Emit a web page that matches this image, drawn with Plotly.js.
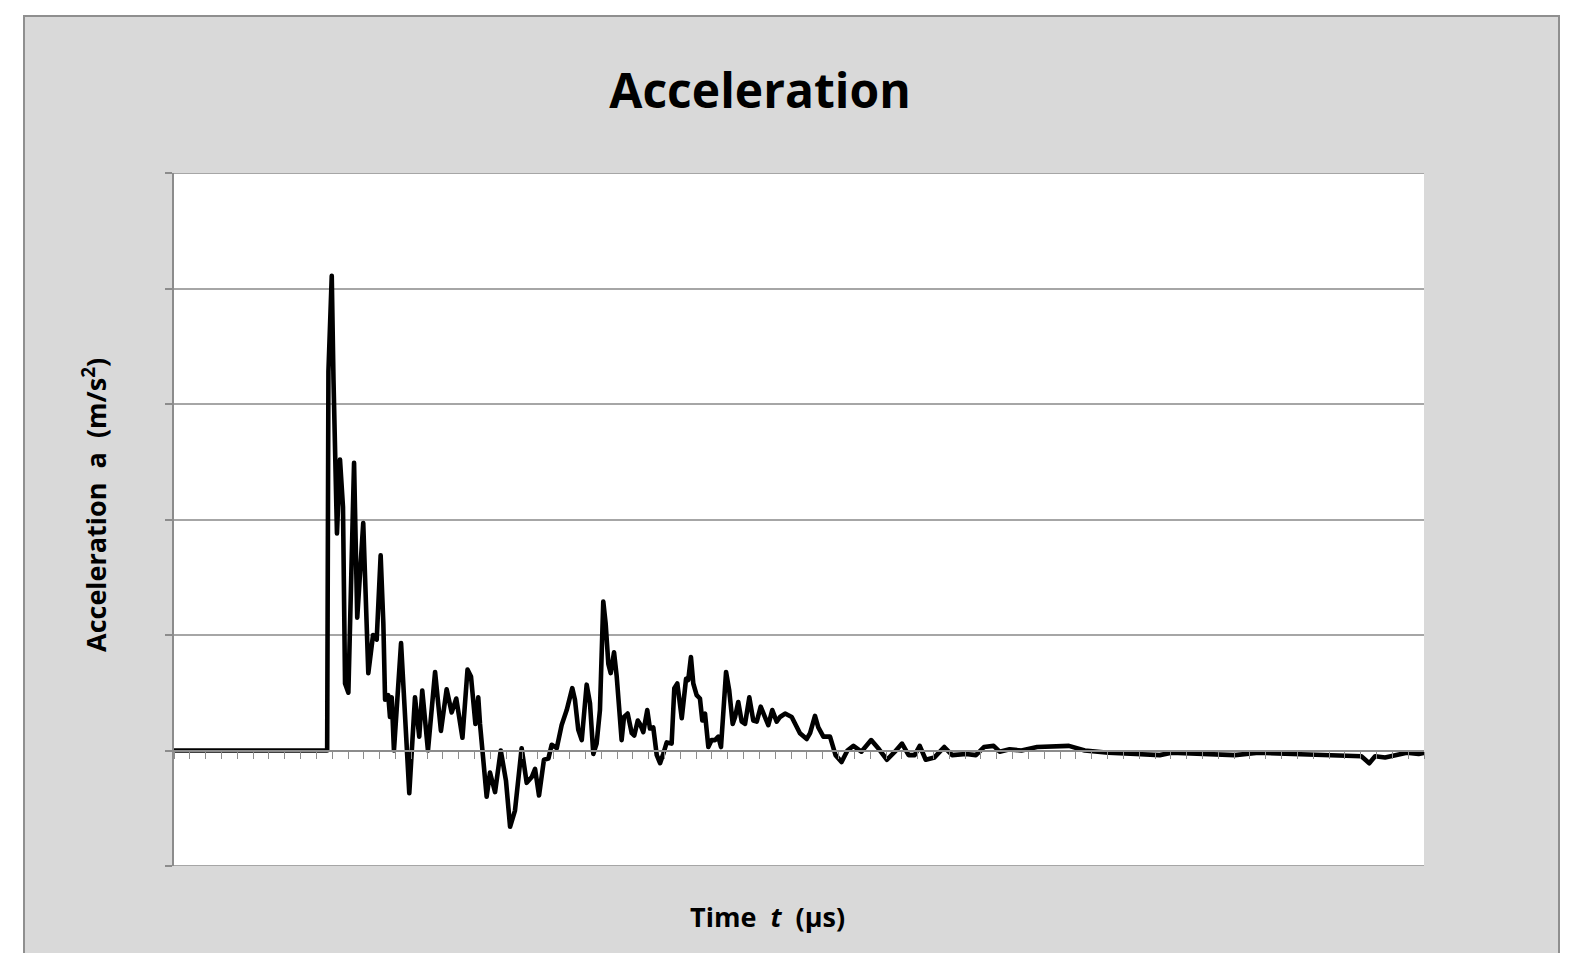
<!DOCTYPE html>
<html>
<head>
<meta charset="utf-8">
<script src="https://cdn.plot.ly/plotly-3.0.1.min.js"></script>
<style>
  html, body { margin: 0; padding: 0; background: #ffffff; width: 1574px; height: 953px; overflow: hidden; }
  #frame { position: absolute; left: 23px; top: 15px; width: 1537px; height: 960px; background: #d9d9d9; border: 2px solid #8f8f8f; box-sizing: border-box; }
  #chart { position: absolute; left: 0; top: 0; width: 1574px; height: 953px; }
  #chart .scatterlayer path.js-line { stroke-linejoin: round; stroke-linecap: round; }
</style>
</head>
<body>
<div id="frame"></div>
<div id="chart"></div>
<script>
// Time (µs)
const timeUs = [
  0, 96.8, 97.6, 99.7, 100.8, 102.2, 103.0, 104.9, 106.8, 108.1, 110.2,
  113.8, 115.8, 119.6, 122.8, 125.8, 128.1, 130.6, 132.3, 133.4, 135.4,
  136.5, 137.6, 139.0, 143.5, 148.7, 152.3, 155.0, 156.9, 160.5, 165.0,
  168.7, 172.3, 175.5, 178.4, 182.3, 185.5, 187.7, 190.5, 192.3, 193.4,
  197.6, 199.7, 202.9, 206.5, 209.8, 212.4, 215.5, 219.7, 222.9, 226.1,
  228.2, 230.7, 233.8, 236.6, 238.7, 241.9, 245.0, 248.2, 251.7, 253.4,
  255.5, 257.7, 260.8, 262.9, 265.0, 267.1, 269.2, 271.3, 272.8, 274.5,
  276.0, 278.1, 279.8, 281.9, 282.9, 284.4, 286.7, 289.3, 290.9, 293.1,
  294.5, 296.6, 299.1, 300.8, 302.9, 305.1, 307.2, 309.2, 311.4, 314.5,
  316.2, 318.1, 320.9, 323.6, 325.0, 326.7, 328.2, 330.3, 332.4, 333.9,
  335.6, 337.7, 339.8, 341.9, 344.0, 345.7, 347.2, 348.9, 350.9, 353.1,
  354.6, 356.6, 358.8, 360.9, 363.6, 366.1, 368.3, 370.8, 373.5, 375.6,
  378.1, 380.9, 383.0, 386.2, 390.4, 393.5, 395.6, 399.9, 402.0, 405.1,
  407.2, 410.4, 414.6, 418.1, 421.9, 425.6, 429.4, 434.4, 440.6, 445.6,
  450.6, 455.6, 460.1, 464.3, 468.1, 471.3, 475.1, 480.6, 486.8, 491.8,
  500.6, 506.8, 511.9, 518.0, 521.8, 528.1, 535.6, 545.5, 555.6, 565.6,
  575.6, 590.5, 608.0, 623.0, 630.4, 645.5, 670.4, 685.4, 707.8, 732.9,
  750.4, 755.4, 759.1, 765.4, 772.8, 779.1, 786.6, 790.0
];
// Acceleration (m/s²)
const accel = [
  0, 0, 3.28, 4.11, 3.21, 2.52, 1.88, 2.52, 2.11, 0.58, 0.50,
  2.49, 1.15, 1.97, 0.67, 1.00, 0.96, 1.69, 1.10, 0.44, 0.48,
  0.29, 0.46, 0.00, 0.93, -0.37, 0.46, 0.12, 0.52, 0.00, 0.68,
  0.17, 0.53, 0.33, 0.45, 0.11, 0.70, 0.64, 0.23, 0.46, 0.23,
  -0.40, -0.19, -0.36, 0.00, -0.26, -0.66, -0.52, 0.02, -0.28, -0.23,
  -0.16, -0.39, -0.08, -0.07, 0.05, 0.02, 0.22, 0.35, 0.54, 0.44,
  0.18, 0.09, 0.57, 0.41, -0.03, 0.06, 0.35, 1.29, 1.10, 0.75,
  0.67, 0.85, 0.64, 0.20, 0.09, 0.29, 0.32, 0.15, 0.13, 0.26,
  0.23, 0.16, 0.35, 0.19, 0.20, -0.04, -0.11, -0.03, 0.07, 0.06,
  0.54, 0.58, 0.28, 0.62, 0.61, 0.81, 0.58, 0.48, 0.45, 0.26,
  0.32, 0.03, 0.09, 0.09, 0.12, 0.03, 0.38, 0.68, 0.52, 0.23,
  0.29, 0.42, 0.25, 0.23, 0.46, 0.26, 0.25, 0.38, 0.29, 0.22,
  0.35, 0.25, 0.29, 0.32, 0.29, 0.20, 0.15, 0.10, 0.15, 0.30,
  0.20, 0.12, 0.12, -0.04, -0.10, 0.00, 0.04, -0.01, 0.09, 0.01,
  -0.08, -0.01, 0.06, -0.04, -0.04, 0.04, -0.08, -0.06, 0.03, -0.04,
  -0.03, -0.04, 0.03, 0.04, -0.01, 0.01, 0.00, 0.03, 0.04, 0.04,
  0.00, -0.02, -0.03, -0.04, -0.02, -0.03, -0.04, -0.02, -0.03, -0.05,
  -0.05, -0.11, -0.05, -0.06, -0.04, -0.02, -0.03, -0.02
];
const yTickValues = [-1, 0, 1, 2, 3, 4, 5];
const titleText = 'Acceleration';
const xTitleText = 'Time  <i>t</i>  (µs)';
const yTitleText = 'Acceleration  a  (m/s<sup>2</sup>)';

const GRID = '#a6a6a6';
const AXIS = '#8c8c8c';
const FONT = 'Open Sans, Noto Sans, DejaVu Sans, sans-serif';

const trace = {
  x: timeUs, y: accel, type: 'scatter', mode: 'lines',
  line: { color: '#000000', width: 4.6, shape: 'linear' },
  hoverinfo: 'skip', showlegend: false
};

const layout = {
  width: 1574, height: 953,
  margin: { l: 174, r: 150, t: 173, b: 87, pad: 0 },
  paper_bgcolor: 'rgba(0,0,0,0)',
  plot_bgcolor: '#ffffff',
  showlegend: false,
  title: {
    text: '<b>' + titleText + '</b>',
    font: { family: FONT, size: 48, color: '#000000' },
    xref: 'container', yref: 'container',
    x: 760 / 1574, xanchor: 'center',
    y: 1 - 91 / 953, yanchor: 'middle'
  },
  xaxis: {
    range: [0, 790], tick0: 0, dtick: 10,
    showgrid: false, zeroline: false,
    showticklabels: false,
    ticks: 'outside', ticklen: 7, tickwidth: 1, tickcolor: AXIS,
    showline: true, linecolor: AXIS, linewidth: 2,
    anchor: 'free', position: 1 / 6,
    fixedrange: true
  },
  yaxis: {
    range: [-1, 5], tickvals: yTickValues,
    showgrid: true, gridcolor: GRID, gridwidth: 2,
    zeroline: false,
    showticklabels: false,
    ticks: 'outside', ticklen: 7, tickwidth: 2, tickcolor: AXIS,
    showline: true, linecolor: AXIS, linewidth: 2,
    fixedrange: true
  },
  shapes: [
    { type: 'line', xref: 'paper', yref: 'y', x0: 0, x1: 1, y0: 5, y1: 5, line: { color: GRID, width: 2 }, layer: 'below' },
    { type: 'line', xref: 'paper', yref: 'y', x0: 0, x1: 1, y0: -1, y1: -1, line: { color: GRID, width: 2 }, layer: 'below' }
  ],
  annotations: [
    {
      text: '<b>' + xTitleText + '</b>', showarrow: false,
      xref: 'paper', yref: 'paper',
      x: (767 - 174) / 1250, y: (866 - 916) / 693,
      xanchor: 'center', yanchor: 'middle',
      font: { family: FONT, size: 27, color: '#000000' }
    },
    {
      text: '<b>' + yTitleText + '</b>', showarrow: false, textangle: -90,
      xref: 'paper', yref: 'paper',
      x: (94 - 174) / 1250, y: (866 - 505) / 693,
      xanchor: 'center', yanchor: 'middle',
      font: { family: FONT, size: 27, color: '#000000' }
    }
  ]
};

Plotly.newPlot('chart', [trace], layout, { staticPlot: true, displayModeBar: false });
</script>
</body>
</html>
